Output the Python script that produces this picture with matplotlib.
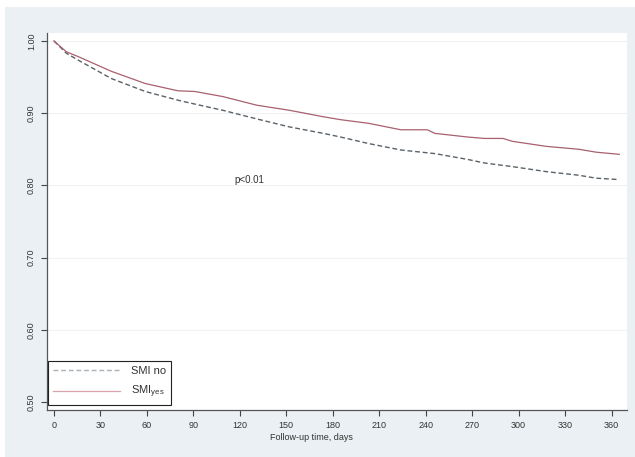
import matplotlib.pyplot as plt
from matplotlib.patches import Rectangle

# Kaplan-Meier curves
days_no = [0, 8, 16, 37, 59, 80, 88, 109, 131, 152, 174, 185, 203, 224, 246, 267, 278, 296, 318, 339, 350, 365]
surv_no = [1.000, 0.983, 0.973, 0.948, 0.930, 0.918, 0.914, 0.904, 0.892, 0.881, 0.872, 0.867, 0.858,
           0.849, 0.844, 0.836, 0.831, 0.826, 0.819, 0.814, 0.810, 0.808]

days_yes = [0, 8, 16, 37, 59, 80, 91, 109, 131, 152, 174, 185, 203, 224, 241, 246, 267, 278, 290, 296,
            318, 339, 350, 365]
surv_yes = [1.000, 0.985, 0.978, 0.958, 0.941, 0.931, 0.930, 0.923, 0.911, 0.904, 0.895, 0.891, 0.886,
            0.877, 0.877, 0.872, 0.867, 0.865, 0.865, 0.861, 0.854, 0.850, 0.846, 0.843]

x_ticks = list(range(0, 361, 30))
y_ticks = [0.50, 0.60, 0.70, 0.80, 0.90, 1.00]

plt.rcParams['font.family'] = ['Liberation Sans', 'DejaVu Sans']

fig = plt.figure(figsize=(6.35, 4.57), dpi=100)
fig.patch.set_facecolor('white')
# grey Stata-like background, with a thin white margin on top and left
bg = Rectangle((5 / 635, 0), 1, 1 - 7 / 457, transform=fig.transFigure,
               facecolor='#eaf0f3', edgecolor='none', zorder=-10)
fig.patches.append(bg)

ax = fig.add_axes([47 / 635, 47 / 457, 580 / 635, 377 / 457])
ax.set_facecolor('white')

for y in y_ticks[1:]:
    ax.axhline(y, color='#eef2f4', lw=0.8, zorder=1)

ax.plot(days_no, surv_no, color='#5a6268', lw=1.0, dashes=(3.5, 2), label='SMI no', zorder=3)
ax.plot(days_yes, surv_yes, color='#a8606e', lw=0.9, label='SMI$_\\mathregular{yes}$', zorder=3)

ax.set_xlim(-4.5, 370)
ax.set_ylim(0.489, 1.011)
ax.set_xticks(x_ticks)
ax.set_yticks(y_ticks)
ax.set_xticklabels([str(v) for v in x_ticks], fontsize=6.5, color='#333333')
ax.set_yticklabels(['%.2f' % v for v in y_ticks], fontsize=6.5, color='#333333',
                   rotation=90, va='center')
ax.tick_params(direction='out', length=4, width=0.8, color='#444444', pad=4)

for side in ['top', 'right']:
    ax.spines[side].set_visible(False)
for side in ['left', 'bottom']:
    ax.spines[side].set_color('#555555')
    ax.spines[side].set_linewidth(0.9)

ax.text(126, 0.807, 'p<0.01', fontsize=7, color='#333333', ha='center', va='center')

fig.text(311 / 635, 1 - 437 / 457, 'Follow-up time, days', fontsize=6.5, color='#333333',
         ha='center', va='center')

leg = ax.legend(loc='lower left', bbox_to_anchor=(0.002, 0.012), fontsize=8, frameon=True,
                fancybox=False, framealpha=1, edgecolor='#222222', handlelength=6,
                borderpad=0.45, labelspacing=0.75, handletextpad=1.0, borderaxespad=0)
leg.get_frame().set_linewidth(0.8)
# legend keys look washed out in the original
leg_lines = leg.get_lines()
leg_lines[0].set_color('#a9b0b6')
leg_lines[1].set_color('#d9a3ad')
for t in leg.get_texts():
    t.set_color('#333333')

fig.savefig('out.png', dpi=100, facecolor=fig.get_facecolor())
